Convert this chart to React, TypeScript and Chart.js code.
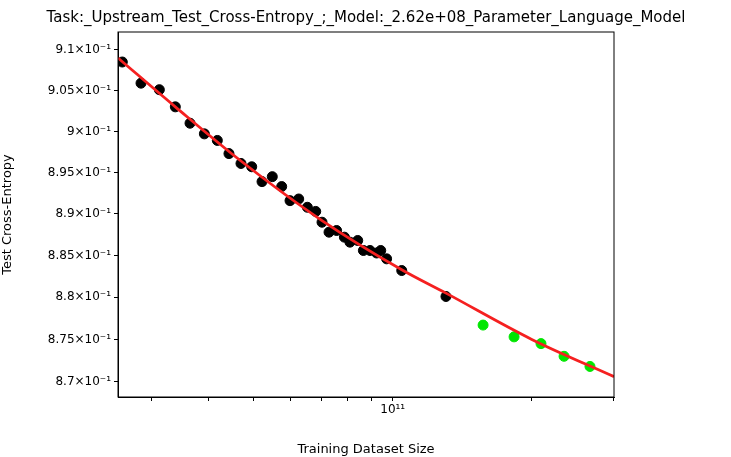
import { useEffect, useRef } from "react";
import Chart from "chart.js/auto";

const trainX = [2.598e10, 2.852e10, 3.125e10, 3.384e10, 3.641e10, 3.911e10, 4.172e10, 4.421e10, 4.694e10, 4.952e10, 5.213e10, 5.487e10, 5.75e10, 5.994e10, 6.259e10, 6.535e10, 6.813e10, 7.03e10, 7.28e10, 7.56e10, 7.86e10, 8.08e10, 8.4e10, 8.64e10, 8.93e10, 9.23e10, 9.42e10, 9.7e10, 1.046e11, 1.304e11];
const trainY = [0.9085, 0.9059, 0.9051, 0.903, 0.901, 0.8997, 0.8989, 0.8973, 0.8961, 0.8957, 0.8939, 0.8945, 0.8933, 0.8916, 0.8918, 0.8908, 0.8903, 0.889, 0.8878, 0.888, 0.8872, 0.8866, 0.8868, 0.8856, 0.8856, 0.8853, 0.8856, 0.8846, 0.8832, 0.8801];
const testX = [1.569e11, 1.831e11, 2.094e11, 2.349e11, 2.673e11];
const testY = [0.8767, 0.8753, 0.8745, 0.873, 0.8718];
const fitX = [2.543e10, 3.384e10, 4.694e10, 7.03e10, 1.046e11, 1.304e11, 2e11, 3.013e11];
const fitY = [0.909, 0.903, 0.8964, 0.8892, 0.8833, 0.8805, 0.875, 0.8706];
const yTicks = [0.87, 0.875, 0.88, 0.885, 0.89, 0.895, 0.9, 0.905, 0.91];
const xTicks = [3e10, 4e10, 5e10, 6e10, 7e10, 8e10, 9e10, 1e11, 2e11, 3e11];
const titleText = "Task:_Upstream_Test_Cross-Entropy_;_Model:_2.62e+08_Parameter_Language_Model";

const font = "'DejaVu Sans', sans-serif";
const toPts = (xs: number[], ys: number[]) => xs.map((x, i) => ({ x, y: ys[i] }));

const framePlugin = {
  id: "frame",
  afterDraw(chart: any) {
    const { ctx, chartArea: a } = chart;
    ctx.save();
    ctx.strokeStyle = "#000";
    ctx.lineWidth = 1;
    ctx.strokeRect(a.left, a.top, a.right - a.left, a.bottom - a.top);
    ctx.fillStyle = "#000";
    ctx.font = `15px ${font}`;
    ctx.textAlign = "center";
    ctx.textBaseline = "bottom";
    ctx.fillText(titleText, (a.left + a.right) / 2, a.top - 6);
    ctx.restore();
  },
};

export default function App() {
  const ref = useRef<HTMLCanvasElement>(null);

  useEffect(() => {
    if (!ref.current) return;
    const chart = new Chart(ref.current, {
      type: "scatter",
      data: {
        datasets: [
          {
            type: "line",
            data: toPts(fitX, fitY),
            borderColor: "#f52020",
            borderWidth: 2.8,
            pointRadius: 0,
            cubicInterpolationMode: "monotone",
            order: 0,
          },
          {
            data: toPts(trainX, trainY),
            backgroundColor: "#000000",
            borderColor: "#000000",
            pointRadius: 5,
            order: 1,
          },
          {
            data: toPts(testX, testY),
            backgroundColor: "#00e600",
            borderColor: "#00e600",
            pointRadius: 5,
            order: 1,
          },
        ],
      },
      options: {
        animation: false,
        responsive: false,
        layout: { padding: { left: 0, right: 117, top: 32, bottom: 0 } },
        plugins: {
          legend: { display: false },
          tooltip: { enabled: false },
          title: { display: false },
        },
        scales: {
          x: {
            type: "logarithmic",
            min: 2.543e10,
            max: 3.013e11,
            grid: { display: true, drawOnChartArea: false, drawTicks: true, tickLength: 4, color: "#000" },
            border: { color: "#000", width: 1 },
            afterBuildTicks: (s: any) => { s.ticks = xTicks.map((v) => ({ value: v })); },
            afterFit: (s: any) => { s.height = 60; },
            ticks: {
              color: "#000",
              font: { family: font, size: 12 },
              autoSkip: false,
              maxRotation: 0,
              padding: 2,
              callback: (v: any) => (v === 1e11 ? "10¹¹" : ""),
            },
            title: { display: true, text: "Training Dataset Size", color: "#000", font: { family: font, size: 13 }, padding: { top: 10, bottom: 0 } },
          },
          y: {
            type: "logarithmic",
            min: 0.8682,
            max: 0.9122,
            grid: { display: true, drawOnChartArea: false, drawTicks: true, tickLength: 4, color: "#000" },
            border: { color: "#000", width: 1 },
            afterBuildTicks: (s: any) => { s.ticks = yTicks.map((v) => ({ value: v })); },
            afterFit: (s: any) => { s.width = 118; },
            ticks: {
              color: "#000",
              font: { family: font, size: 12 },
              autoSkip: false,
              padding: 3,
              callback: (v: any) => `${+(Number(v) * 10).toFixed(3)}×10⁻¹`,
            },
            title: { display: true, text: "Test Cross-Entropy", color: "#000", font: { family: font, size: 13 }, padding: { top: 0, bottom: 4 } },
          },
        },
      },
      plugins: [framePlugin],
    } as any);
    return () => chart.destroy();
  }, []);

  return (
    <div style={{ position: "absolute", left: 0, top: 0, width: 731, height: 457, background: "#fff" }}>
      <canvas ref={ref} width={731} height={457}></canvas>
    </div>
  );
}
